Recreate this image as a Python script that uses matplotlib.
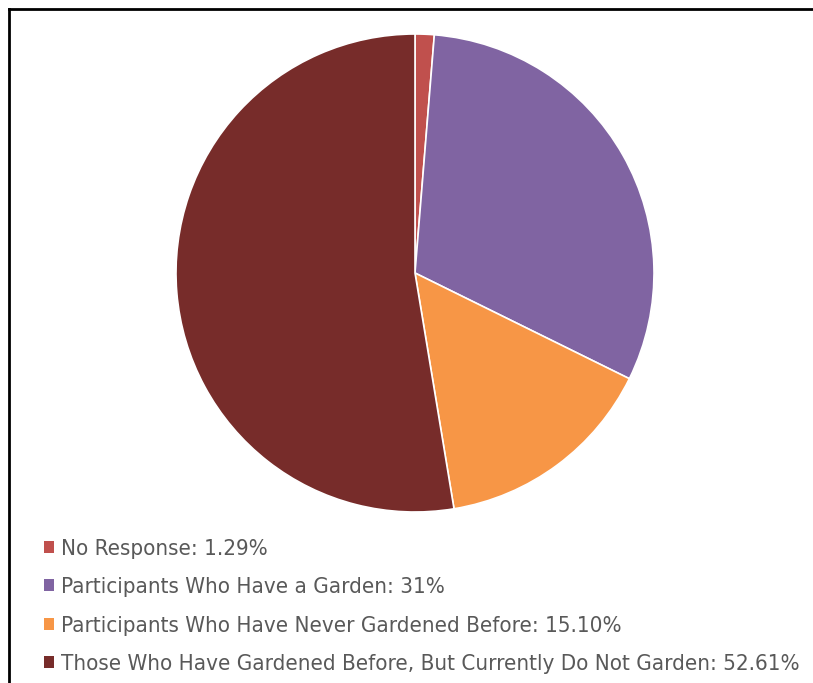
import matplotlib
matplotlib.use("Agg")
import matplotlib.pyplot as plt
from matplotlib.lines import Line2D
from matplotlib.patches import Patch

labels = ["No Response", "Participants Who Have a Garden",
          "Participants Who Have Never Gardened Before",
          "Those Who Have Gardened Before, But Currently Do Not Garden"]
values = [1.29, 31, 15.10, 52.61]
value_text = ["1.29%", "31%", "15.10%", "52.61%"]
colors = ["#C0504D", "#8064A2", "#F79646", "#772C2A"]

plt.rcParams['font.family'] = ['DejaVu Sans']
plt.rcParams['font.stretch'] = 'condensed'

W, H = 813, 683
fig = plt.figure(figsize=(W / 100, H / 100), dpi=100)
fig.patch.set_facecolor("white")

# pie centre and radius in pixels (from top-left)
cx, cy, r = 415, 273, 239
ax = fig.add_axes([(cx - r) / W, (H - cy - r) / H, 2 * r / W, 2 * r / H])
ax.pie(values, colors=colors, startangle=90, counterclock=False,
       wedgeprops=dict(edgecolor="white", linewidth=1.2))
ax.set_xlim(-1, 1)
ax.set_ylim(-1, 1)
ax.set_aspect("equal")
ax.axis("off")

# frame (only left and top edges visible)
fig.add_artist(Line2D([9 / W, 9 / W], [0, 1 - 9 / H], color="black", lw=2,
                      transform=fig.transFigure))
fig.add_artist(Line2D([9 / W, 1], [1 - 9 / H, 1 - 9 / H], color="black", lw=2,
                      transform=fig.transFigure))

handles = [Patch(facecolor=c, edgecolor="none") for c in colors]
leg_labels = [f"{l}: {v}" for l, v in zip(labels, value_text)]
leg = fig.legend(handles, leg_labels, loc="upper left",
                 bbox_to_anchor=(35 / W, 1 - 530 / H), frameon=False,
                 fontsize=16, handlelength=0.45, handleheight=0.45,
                 handletextpad=0.33, labelspacing=0.83, borderaxespad=0)
for t in leg.get_texts():
    t.set_color("#595959")

fig.savefig("out.png", dpi=100)
